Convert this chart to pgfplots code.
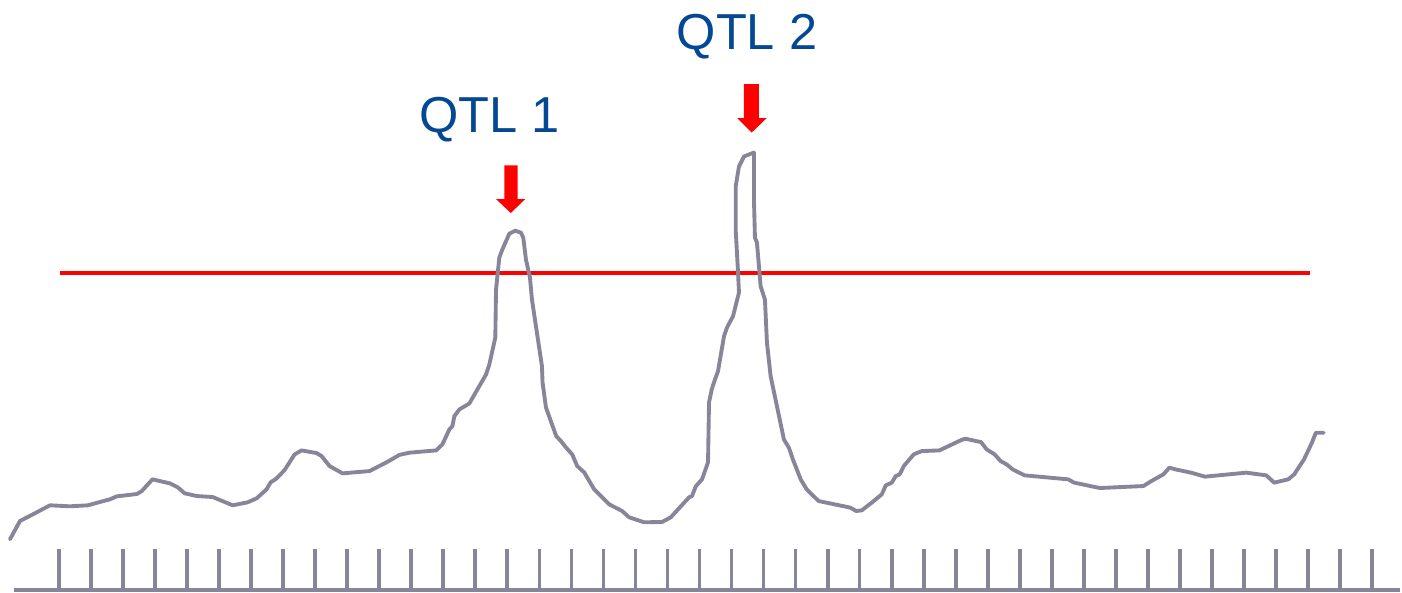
\documentclass[border=0pt]{standalone}
\usepackage{pgfplots}
\pgfplotsset{compat=1.18}
\usepackage{fontspec}
\setmainfont{Liberation Sans}
\definecolor{lodgray}{RGB}{134,133,153}
\definecolor{qtlblue}{RGB}{4,72,148}
\begin{document}
\begin{tikzpicture}
\begin{axis}[
  scale only axis, width=14.02cm, height=5.93cm,
  xmin=0, xmax=1402, ymin=-2, ymax=591,
  hide axis, clip=false,
]
\path (axis cs:0,-2) rectangle (axis cs:1402,591);
% baseline
\addplot[lodgray, line width=1.1pt] coordinates {(14,0) (1402,0)};
% ticks
\addplot[ycomb, lodgray, line width=1.05pt, mark=none] coordinates {
(59.0,41) (91.1,41) (123.1,41) (155.2,41) (187.3,41) (219.4,41) (251.4,41)
(283.5,41) (315.6,41) (347.7,41) (379.7,41) (411.8,41) (443.9,41) (475.9,41)
(508.0,41) (540.1,41) (572.2,41) (604.2,41) (636.3,41) (668.4,41) (700.5,41)
(732.5,41) (764.6,41) (796.7,41) (828.8,41) (860.8,41) (892.9,41) (925.0,41)
(957.0,41) (989.1,41) (1021.2,41) (1053.3,41) (1085.3,41) (1117.4,41) (1149.5,41)
(1181.6,41) (1213.6,41) (1245.7,41) (1277.8,41) (1309.8,41) (1341.9,41) (1374.0,41)
};
% threshold
\addplot[red, line width=1.2pt] coordinates {(60,318) (1312,318)};
% LOD curve
\addplot[lodgray, line width=1.1pt, line join=round, line cap=round, mark=none] coordinates {
(10,51) (20,69.3) (33,76) (50,85) (70,84) (88,85) (100,88.3) (110,91) (117,94)
(137,96.3) (142,99.3) (152.7,111) (170,107) (178,103) (185,97) (197,94.3)
(213,93.3) (233,85) (248,88) (257,92) (267,101) (271,108) (277,112) (285,120.3)
(295,136) (302,140) (317,137.3) (322,134.3) (330,124.3) (343,117) (370,119.3)
(387,128) (400,135.5) (410,137.7) (436.7,140) (443,146) (450,161) (453,164.3)
(455,174.3) (460,181) (470,187) (486.7,216) (490,226) (496,253) (496.7,301)
(500,333) (503,341) (510,357) (516,360) (521.7,358) (524,353) (526.7,331)
(530.7,313) (532.7,291) (542.7,224.3) (543.3,208) (546.7,183) (557,154.3)
(561.7,149.3) (566.7,143) (573,136) (578,124.3) (585,118) (595,101) (610,86)
(623,79.3) (630,73) (645,68) (663,68.3) (671.7,73) (690,93) (693,94.3)
(696.7,104) (703,111) (709,128) (710,188) (712.7,201) (716,211) (719,219.3)
(725,254.3) (728,263) (734,274.3) (740,298) (739,319.3) (736.7,361)
(736.7,404.3) (740,424.3) (745,434.3) (755,438.3) (755,391) (756,353)
(758,348) (761.7,304.3) (766,291) (768,248) (771.7,214.3) (785,151)
(790,142.7) (794,131) (801.8,111) (807.8,101) (819.7,89.3) (851.4,82.7)
(857.4,79.3) (863,80) (873,87.7) (883,96) (887,105) (893,107.7) (897,114.3)
(901,116) (905,124.3) (915,136) (923,139.3) (940.7,140) (962.5,150.3)
(966.5,151.7) (982.4,148.3) (988,141) (996,136) (1002,129.3) (1008,126)
(1014,121) (1026,115) (1069.7,111) (1075.6,107.7) (1101.4,102.3) (1145,104.3)
(1153,109.3) (1165,116) (1171,122.7) (1177,121) (1192.7,117.7) (1206.6,113.7)
(1248,117.7) (1268,115) (1276,107.7) (1290,111) (1296,116) (1305.8,131)
(1309.8,139.3) (1313.7,147.7) (1317.7,157.7) (1325.6,157.7)
};
% arrows
\addplot[fill=red, draw=none] coordinates {
(505,425.3) (518.3,425.3) (518.3,391.7) (526,391.7) (511.5,377.7) (496.7,391.7) (505,391.7)
} -- cycle;
\addplot[fill=red, draw=none] coordinates {
(745,506.7) (760,506.7) (760,472.7) (767.7,472.7) (752.7,458.3) (738.3,472.7) (745,472.7)
} -- cycle;
% labels
\node[anchor=base west, inner sep=0pt, text=qtlblue, font=\fontsize{14.4pt}{16pt}\selectfont]
  at (axis cs:419,458) {QTL 1};
\node[anchor=base west, inner sep=0pt, text=qtlblue, font=\fontsize{14.4pt}{16pt}\selectfont]
  at (axis cs:677,541.7) {QTL 2};
\end{axis}
\end{tikzpicture}
\end{document}
